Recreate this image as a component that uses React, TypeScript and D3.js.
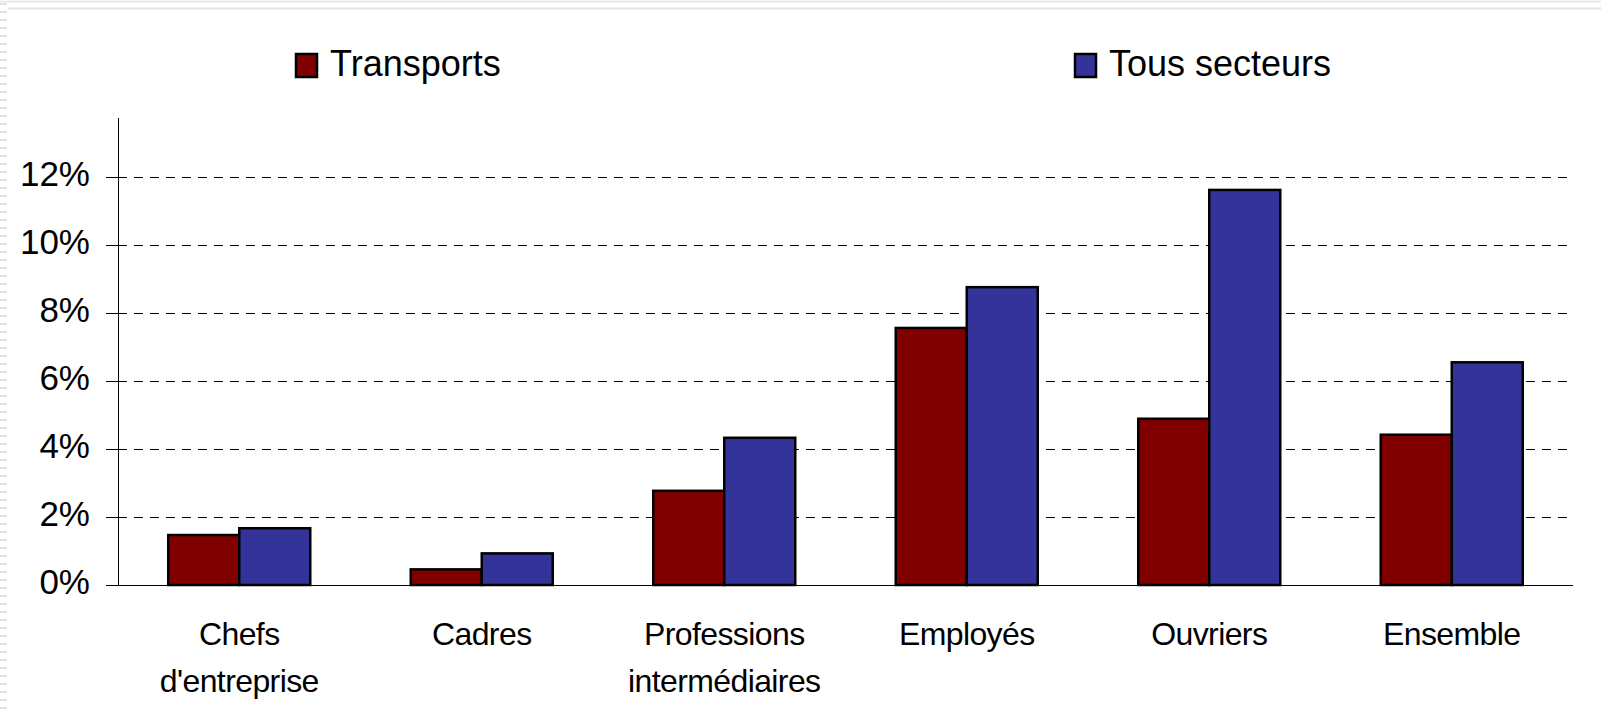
import React from "react";
import * as d3 from "d3";

const categories = [
  ["Chefs", "d'entreprise"],
  ["Cadres"],
  ["Professions", "intermédiaires"],
  ["Employés"],
  ["Ouvriers"],
  ["Ensemble"],
];
const seriesNames = ["Transports", "Tous secteurs"];
const transports = [1.47, 0.46, 2.77, 7.56, 4.89, 4.42];
const tousSecteurs = [1.67, 0.93, 4.33, 8.76, 11.62, 6.55];
const yTicks = [0, 2, 4, 6, 8, 10, 12];
const colors = ["#800000", "#333399"];

const W = 1601;
const H = 716;
const FONT = "'Liberation Sans', Arial, Helvetica, sans-serif";

export default function App() {
  const left = 118;
  const right = 1573;
  const bottom = 585;
  const keys = categories.map((c) => c.join(" "));
  const x0 = d3
    .scaleBand<string>()
    .domain(keys)
    .range([left, right])
    .paddingInner(0.4144)
    .paddingOuter(0.2072);
  const x1 = d3.scaleBand<number>().domain([0, 1]).range([0, x0.bandwidth()]);
  const y = d3.scaleLinear().domain([0, 13.75]).range([bottom, bottom - 13.75 * 34]);
  const series = [transports, tousSecteurs];

  const leftStrip = d3.range(4, H, 8);

  return (
    <div style={{ position: "fixed", left: 0, top: 0 }}>
      <svg width={W} height={H} style={{ display: "block", background: "#fff" }}>
        {/* faint frame artifacts */}
        <line x1={0} x2={W} y1={1.5} y2={1.5} stroke="#e4e4e4" strokeWidth={1.5} />
        <line x1={8} x2={W} y1={8.5} y2={8.5} stroke="#e4e4e4" strokeWidth={2} />
        {leftStrip.map((yy) => (
          <line key={yy} x1={0} x2={7} y1={yy} y2={yy} stroke="#e2e2e2" strokeWidth={2} />
        ))}

        {/* gridlines */}
        {yTicks
          .filter((t) => t > 0)
          .map((t) => (
            <line
              key={"g" + t}
              x1={left}
              x2={right}
              y1={y(t) + 0.5}
              y2={y(t) + 0.5}
              stroke="#000"
              strokeWidth={1}
              strokeDasharray="9,7"
              shapeRendering="crispEdges"
            />
          ))}
        {/* ticks */}
        {yTicks.map((t) => (
          <line
            key={"t" + t}
            x1={106}
            x2={left}
            y1={y(t) + 0.5}
            y2={y(t) + 0.5}
            stroke="#000"
            strokeWidth={1}
            shapeRendering="crispEdges"
          />
        ))}
        {/* y axis */}
        <line
          x1={left + 0.5}
          x2={left + 0.5}
          y1={y(13.75)}
          y2={bottom}
          stroke="#000"
          strokeWidth={1}
          shapeRendering="crispEdges"
        />

        {/* bars */}
        {series.map((vals, si) =>
          vals.map((v, i) => (
            <rect
              key={si + "-" + i}
              x={(x0(keys[i]) as number) + (x1(si) as number)}
              y={y(v)}
              width={x1.bandwidth()}
              height={bottom - y(v)}
              fill={colors[si]}
              stroke="#000"
              strokeWidth={2.5}
            />
          ))
        )}
        {/* x axis */}
        <line
          x1={106}
          x2={right}
          y1={bottom + 0.5}
          y2={bottom + 0.5}
          stroke="#000"
          strokeWidth={1}
          shapeRendering="crispEdges"
        />

        {/* y labels */}
        {yTicks.map((t) => (
          <text
            key={"l" + t}
            x={90}
            y={y(t) + 9}
            textAnchor="end"
            fontFamily={FONT}
            fontSize={35}
            fill="#000"
          >
            {t + "%"}
          </text>
        ))}

        {/* category labels */}
        {categories.map((lines, i) => (
          <text
            key={"c" + i}
            x={(x0(keys[i]) as number) + x0.bandwidth() / 2}
            y={645}
            textAnchor="middle"
            fontFamily={FONT}
            fontSize={32}
            letterSpacing={-0.6}
            fill="#000"
          >
            {lines.map((ln, j) => (
              <tspan key={j} x={(x0(keys[i]) as number) + x0.bandwidth() / 2} dy={j === 0 ? 0 : 47}>
                {ln}
              </tspan>
            ))}
          </text>
        ))}

        {/* legend */}
        {seriesNames.map((name, si) => {
          const lx = si === 0 ? 296 : 1075;
          return (
            <g key={"lg" + si}>
              <rect
                x={lx}
                y={54}
                width={21}
                height={23}
                fill={colors[si]}
                stroke="#000"
                strokeWidth={2.5}
              />
              <text x={lx + 34} y={76} fontFamily={FONT} fontSize={36} fill="#000">
                {name}
              </text>
            </g>
          );
        })}
      </svg>
    </div>
  );
}
